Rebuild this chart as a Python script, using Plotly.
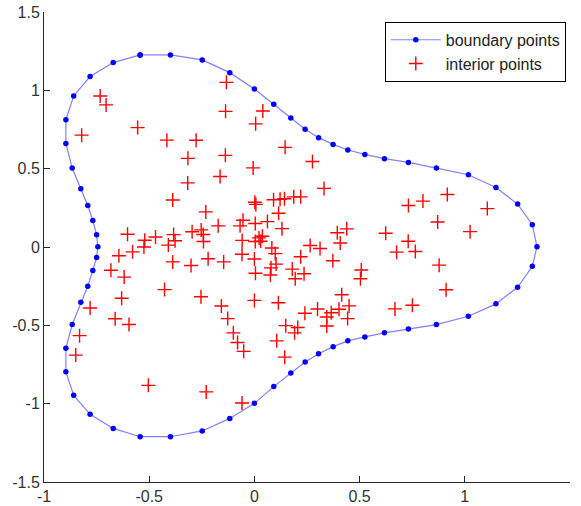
import plotly.graph_objects as go

# Boundary nodes of the domain (closed curve, listed clockwise from the top)
boundary_x = [-0.543, -0.399, -0.248, -0.117, 0.000, 0.092, 0.173, 0.241, 0.305, 0.374,
              0.444, 0.525, 0.618, 0.732, 0.865, 1.017, 1.148, 1.251, 1.321, 1.343,
              1.321, 1.251, 1.148, 1.017, 0.865, 0.732, 0.618, 0.525, 0.444, 0.374,
              0.305, 0.241, 0.173, 0.092, 0.000, -0.117, -0.248, -0.399, -0.543, -0.671,
              -0.781, -0.859, -0.896, -0.896, -0.866, -0.825, -0.792, -0.768, -0.750, -0.744,
              -0.750, -0.768, -0.792, -0.825, -0.866, -0.896, -0.896, -0.859, -0.781, -0.671,
              -0.543]
boundary_y = [1.226, 1.226, 1.194, 1.113, 1.008, 0.911, 0.823, 0.751, 0.698, 0.655,
              0.619, 0.591, 0.564, 0.540, 0.504, 0.461, 0.380, 0.274, 0.142, 0.001,
              -0.123, -0.257, -0.363, -0.442, -0.495, -0.523, -0.548, -0.574, -0.599, -0.636,
              -0.681, -0.734, -0.805, -0.891, -0.998, -1.094, -1.174, -1.211, -1.211, -1.158,
              -1.068, -0.947, -0.796, -0.647, -0.495, -0.353, -0.250, -0.150, -0.067, 0.001,
              0.078, 0.169, 0.265, 0.372, 0.504, 0.661, 0.813, 0.964, 1.088, 1.177,
              1.226]

# Interior collocation nodes
interior_x = [-0.733, -0.705, -0.821, -0.555, -0.416, -0.277, -0.133, -0.137, 0.040, 0.006,
              0.146, -0.316, -0.138, -0.006, -0.163, -0.317, -0.388, -0.231, 0.002, 0.007,
              0.091, 0.122, 0.143, 0.187, 0.220, 0.276, 0.331, 0.115, -0.172, -0.054,
              -0.068, 0.004, 0.062, 0.131, -0.296, -0.253, -0.243, -0.242, -0.058, 0.004,
              0.022, 0.038, 0.030, 0.083, 0.099, -0.603, -0.521, -0.525, -0.470, -0.384,
              -0.377, -0.409, -0.579, -0.644, -0.388, -0.682, -0.619, -0.427, -0.631, -0.781,
              -0.662, -0.596, -0.831, -0.849, -0.504, -0.301, -0.220, -0.146, -0.059, 0.000,
              0.005, 0.103, 0.079, 0.076, 0.180, 0.194, 0.236, 0.220, 0.265, 0.312,
              0.408, 0.394, 0.439, 0.373, 0.508, 0.504, 0.415, 0.450, 0.402, 0.300,
              0.365, 0.344, 0.344, 0.443, 0.240, 0.206, 0.191, 0.149, 0.106, 0.144,
              -0.254, -0.157, -0.127, -0.100, -0.080, -0.051, 0.000, 0.114, -0.229, -0.059,
              0.624, 0.676, 0.731, 0.765, 0.732, 0.801, 0.917, 1.107, 0.871, 1.025,
              0.878, 0.911, 0.668, 0.751]
interior_y = [0.964, 0.907, 0.714, 0.762, 0.682, 0.681, 1.051, 0.866, 0.868, 0.786,
              0.636, 0.566, 0.585, 0.505, 0.450, 0.409, 0.300, 0.224, 0.286, 0.272,
              0.302, 0.304, 0.308, 0.320, 0.320, 0.546, 0.374, 0.215, 0.135, 0.171,
              0.135, 0.150, 0.162, 0.117, 0.097, 0.109, 0.080, 0.035, 0.042, 0.035,
              0.058, 0.069, 0.037, -0.006, -0.042, 0.081, 0.043, 0.000, 0.064, 0.079,
              0.040, 0.012, -0.031, -0.056, -0.095, -0.148, -0.192, -0.272, -0.327, -0.389,
              -0.458, -0.495, -0.566, -0.690, -0.883, -0.118, -0.075, -0.095, -0.046, -0.077,
              -0.168, -0.109, -0.133, -0.179, -0.141, -0.203, -0.171, -0.062, 0.010, -0.010,
              0.026, 0.091, 0.116, -0.088, -0.147, -0.203, -0.305, -0.376, -0.397, -0.396,
              -0.420, -0.447, -0.504, -0.457, -0.423, -0.514, -0.548, -0.502, -0.599, -0.703,
              -0.318, -0.377, -0.457, -0.548, -0.610, -0.666, -0.341, -0.356, -0.925, -0.996,
              0.088, -0.033, 0.037, -0.029, 0.265, 0.293, 0.335, 0.245, 0.160, 0.098,
              -0.116, -0.273, -0.395, -0.372]

x_ticks = [-1, -0.5, 0, 0.5, 1, 1.5]
x_tick_labels = ["-1", "-0.5", "0", "0.5", "1", "1.5"]
y_ticks = [-1.5, -1, -0.5, 0, 0.5, 1, 1.5]
y_tick_labels = ["-1.5", "-1", "-0.5", "0", "0.5", "1", "1.5"]

FONT = "Arial, Liberation Sans, sans-serif"

fig = go.Figure()
fig.add_trace(go.Scatter(
    x=boundary_x, y=boundary_y, mode="lines+markers", name="boundary points",
    line=dict(color="rgba(60,60,255,0.65)", width=1.2),
    marker=dict(color="#0000ff", size=5.5),
))
fig.add_trace(go.Scatter(
    x=interior_x, y=interior_y, mode="markers", name="interior points",
    marker=dict(symbol="cross-thin", size=10, color="#ff0000",
                line=dict(color="#ff0000", width=1.4)),
))

axis_common = dict(
    showgrid=False, zeroline=False, showline=True, linecolor="#262626", linewidth=1,
    ticks="inside", ticklen=6, tickcolor="#262626", tickwidth=1,
    tickfont=dict(family=FONT, size=16, color="#333333"), automargin=False,
)

fig.update_layout(
    width=581, height=506,
    margin=dict(l=44, r=11, t=12, b=24),
    paper_bgcolor="white", plot_bgcolor="white",
    xaxis=dict(range=[-1, 1.5], tickvals=x_ticks, ticktext=x_tick_labels, **axis_common),
    yaxis=dict(range=[-1.5, 1.5], tickvals=y_ticks, ticktext=y_tick_labels, **axis_common),
    legend=dict(
        x=0.992, y=0.979, xanchor="right", yanchor="top",
        bgcolor="white", bordercolor="#000000", borderwidth=1,
        font=dict(family=FONT, size=16, color="#222222"),
        itemwidth=50, tracegroupgap=0,
    ),
    showlegend=True,
)

fig.write_html("out.html")
